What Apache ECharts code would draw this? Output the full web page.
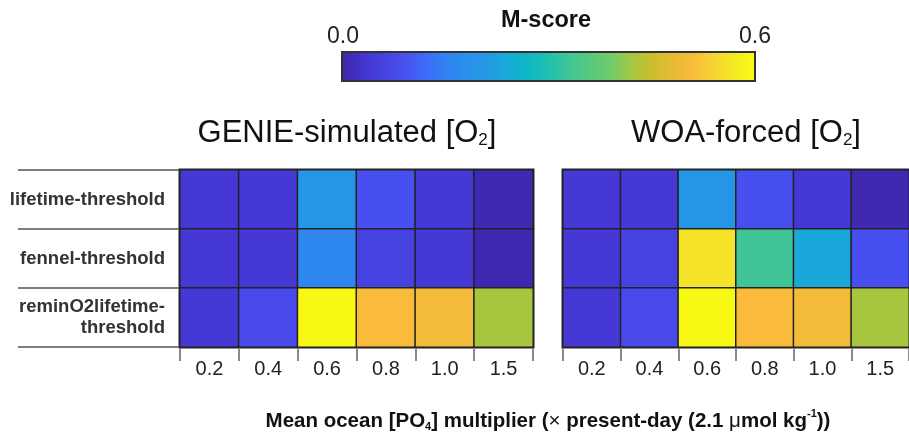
<!DOCTYPE html>
<html>
<head>
<meta charset="utf-8">
<script src="https://cdn.jsdelivr.net/npm/echarts@6/dist/echarts.min.js"></script>
<style>html,body{margin:0;padding:0;background:#fff}#chart{width:909px;height:433px}</style>
</head>
<body>
<div id="chart"></div>
<script>
// ---- data ----
const multipliers = ['0.2', '0.4', '0.6', '0.8', '1.0', '1.5'];
const schemes = ['lifetime-threshold', 'fennel-threshold', 'reminO2lifetime-\nthreshold'];
// M-score, one row per scheme (top to bottom), one column per multiplier
const genieLifetime = [0.039, 0.040, 0.200, 0.090, 0.042, 0.006];
const genieFennel   = [0.039, 0.040, 0.160, 0.060, 0.040, 0.005];
const genieRemin    = [0.040, 0.078, 0.595, 0.510, 0.500, 0.425];
const woaLifetime   = [0.039, 0.040, 0.200, 0.090, 0.042, 0.006];
const woaFennel     = [0.040, 0.060, 0.560, 0.330, 0.235, 0.090];
const woaRemin      = [0.040, 0.078, 0.595, 0.510, 0.500, 0.425];
const colorbarMin = 0.0, colorbarMax = 0.6;
const colorbarLabels = ['0.0', '0.6'];

function toCells(rowsArr) {
  const out = [];
  rowsArr.forEach((row, yi) => row.forEach((v, xi) => out.push([xi, yi, v])));
  return out;
}
const genieCells = toCells([genieLifetime, genieFennel, genieRemin]);
const woaCells = toCells([woaLifetime, woaFennel, woaRemin]);

const parula = ['#3E26A8','#4433CF','#4642DF','#4750EE','#3E6AF8','#3082F3','#2A90EB','#2399E3',
  '#18AAD8','#0FB8C4','#20C0AE','#40C598','#56C87E','#72CB6B','#A0C842','#CBBE2D','#E8B935',
  '#FABB3B','#F6D532','#F4EA22','#F9FB12'];

const FONT = "'Liberation Sans', Arial, Helvetica, sans-serif";

function xAx(gi) {
  return {
    type: 'category', gridIndex: gi, data: multipliers, position: 'bottom',
    axisLine: { show: false },
    axisTick: { show: true, length: 14, lineStyle: { color: '#8a8a8a', width: 2 } },
    axisLabel: { fontSize: 20, color: '#222', margin: 12, fontFamily: FONT },
    splitLine: { show: false }
  };
}
function yAx(gi, showLabels) {
  return {
    type: 'category', gridIndex: gi, data: schemes, inverse: true,
    axisLine: { show: false }, axisTick: { show: false },
    axisLabel: { show: showLabels, fontSize: 18.5, fontWeight: 'bold', color: '#333',
      margin: 15, lineHeight: 21, align: 'right', fontFamily: FONT },
    splitLine: { show: false }
  };
}
const gridStyle = { show: true, borderColor: '#262626', borderWidth: 3, backgroundColor: 'transparent' };

const option = {
  animation: false,
  backgroundColor: '#fff',
  grid: [
    Object.assign({ left: 180, top: 170, width: 353, height: 177 }, gridStyle),
    Object.assign({ left: 563, top: 170, width: 354, height: 177 }, gridStyle),
    { left: 18, top: 170, width: 162, height: 177, show: false }
  ],
  xAxis: [xAx(0), xAx(1), { type: 'value', gridIndex: 2, show: false }],
  yAxis: [yAx(0, true), yAx(1, false), {
    type: 'category', gridIndex: 2, data: schemes, inverse: true,
    axisLine: { show: false }, axisTick: { show: false }, axisLabel: { show: false },
    splitLine: { show: true, interval: 0, lineStyle: { color: '#555', width: 1.5 } }
  }],
  visualMap: {
    type: 'continuous', min: colorbarMin, max: colorbarMax, seriesIndex: [0, 1],
    orient: 'horizontal', left: 342, top: 52, itemWidth: 29, itemHeight: 413,
    calculable: false, showLabel: false, text: null, padding: 0, hoverLink: false,
    inRange: { color: parula }
  },
  series: [
    { type: 'heatmap', xAxisIndex: 0, yAxisIndex: 0, data: genieCells,
      itemStyle: { borderColor: '#222', borderWidth: 1.5 }, emphasis: { disabled: true } },
    { type: 'heatmap', xAxisIndex: 1, yAxisIndex: 1, data: woaCells,
      itemStyle: { borderColor: '#222', borderWidth: 1.5 }, emphasis: { disabled: true } }
  ],
  graphic: [
    { type: 'rect', z: 100, shape: { x: 342, y: 52, width: 413, height: 29 },
      style: { fill: 'none', stroke: '#333', lineWidth: 2 } },
    { type: 'text', z: 100, x: 546, y: 21, style: { text: 'M-score', fontSize: 23.5, fontWeight: 'bold',
      fill: '#111', align: 'center', verticalAlign: 'middle', fontFamily: FONT } },
    { type: 'text', z: 100, x: 343, y: 37, style: { text: colorbarLabels[0], fontSize: 23,
      fill: '#222', align: 'center', verticalAlign: 'middle', fontFamily: FONT } },
    { type: 'text', z: 100, x: 755, y: 37, style: { text: colorbarLabels[1], fontSize: 23,
      fill: '#222', align: 'center', verticalAlign: 'middle', fontFamily: FONT } },
    { type: 'text', z: 100, x: 347, y: 131, style: {
      text: '{a|GENIE-simulated [O}{s|2}{a|]}', align: 'center', verticalAlign: 'middle',
      rich: { a: { fontSize: 31, fill: '#111', fontFamily: FONT, lineHeight: 36, verticalAlign: 'bottom' },
              s: { fontSize: 17, fill: '#111', fontFamily: FONT, lineHeight: 15, verticalAlign: 'bottom' } } } },
    { type: 'text', z: 100, x: 746, y: 131, style: {
      text: '{a|WOA-forced [O}{s|2}{a|]}', align: 'center', verticalAlign: 'middle',
      rich: { a: { fontSize: 31, fill: '#111', fontFamily: FONT, lineHeight: 36, verticalAlign: 'bottom' },
              s: { fontSize: 17, fill: '#111', fontFamily: FONT, lineHeight: 15, verticalAlign: 'bottom' } } } },
    { type: 'text', z: 100, x: 548, y: 420, style: {
      text: '{b|Mean ocean [PO}{sub|4}{b|] multiplier (}{n|×}{b| present-day (2.1 }{n|μ}{b|mol kg}{sup|-1}{b|))}',
      align: 'center', verticalAlign: 'middle',
      rich: { b: { fontSize: 20.5, fontWeight: 'bold', fill: '#111', fontFamily: FONT, lineHeight: 24, verticalAlign: 'bottom' },
              n: { fontSize: 20.5, fill: '#111', fontFamily: FONT, lineHeight: 24, verticalAlign: 'bottom' },
              sub: { fontSize: 11, fontWeight: 'bold', fill: '#111', fontFamily: FONT, lineHeight: 10, verticalAlign: 'bottom' },
              sup: { fontSize: 11, fontWeight: 'bold', fill: '#111', fontFamily: FONT, lineHeight: 10, verticalAlign: 'top' } } } }
  ]
};
const chart = echarts.init(document.getElementById('chart'), null, { renderer: 'canvas' });
chart.setOption(option);
</script>
</body>
</html>
